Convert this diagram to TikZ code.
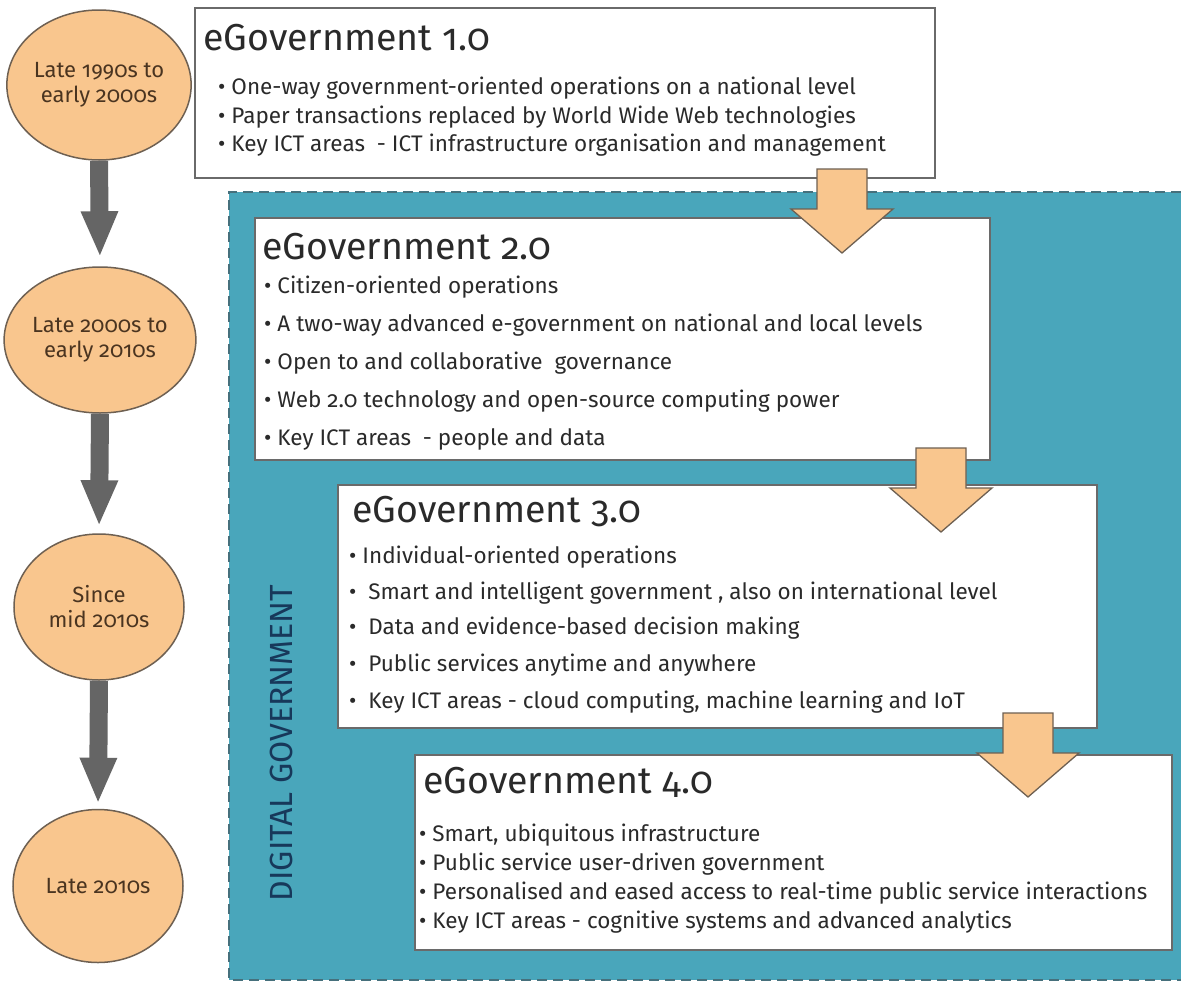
\documentclass[tikz,border=0pt]{standalone}
\usepackage{fontspec}
\setmainfont{Fira Sans}[Numbers=OldStyle]
\usetikzlibrary{shapes.geometric,arrows.meta}
\definecolor{peach}{HTML}{F9C68E}
\definecolor{peachline}{HTML}{6E6052}
\definecolor{tealbg}{HTML}{49A6BB}
\definecolor{tealdash}{HTML}{46707C}
\definecolor{boxline}{HTML}{6A6A6A}
\definecolor{garrow}{HTML}{656565}
\definecolor{navy}{HTML}{17385A}
\definecolor{txt}{HTML}{2A2A2A}
\definecolor{ctxt}{HTML}{4A3420}
\tikzset{
  period/.style={ellipse, draw=peachline, line width=1.5pt, fill=peach, align=center,
    text=ctxt, font=\fontsize{22}{25}\selectfont, inner sep=0pt},
  ebox/.style={draw=boxline, line width=2pt, fill=white, inner sep=0pt},
  etitle/.style={anchor=west, inner sep=0pt, text=txt, font=\fontsize{37.5}{40}\selectfont},
  eitem/.style={anchor=west, inner sep=0pt, text=txt, font=\fontsize{22.5}{26}\selectfont},
  timearrow/.style={draw=garrow, line width=18pt, -{Triangle[width=34pt,length=46pt]}},
  pics/blockarrow/.style={code={
    \draw[fill=peach, draw=peachline, line width=1.3pt, line join=miter]
      (-25,0) -- (25,0) -- (25,40) -- (51,40) -- (0,84) -- (-51,40) -- (-25,40) -- cycle;}}
}
\begin{document}
\begin{tikzpicture}[x=1pt,y=-1pt]
\useasboundingbox (0,0) rectangle (1181,983);
\fill[white] (0,0) rectangle (1181,983);
% teal region
\fill[tealbg] (229,192) rectangle (1181,980);
\draw[tealdash, line width=2.5pt, dash pattern=on 10pt off 6pt] (1181,192) -- (229,192) -- (229,980) -- (1181,980);
\node[text=navy, rotate=90, font=\fontsize{32}{34}\selectfont, inner sep=0pt] (dg) at (281,743) {DIGITAL GOVERNMENT};

% circles
\node[period, minimum width=168pt, minimum height=150pt] (c1) at (99,85) {Late 1990s to\\early 2000s};
\node[period, minimum width=170pt, minimum height=146pt] (c2) at (100,340) {Late 2000s to\\early 2010s};
\node[period, minimum width=170pt, minimum height=146pt] (c3) at (99,607) {Since\\mid 2010s};
\node[period, minimum width=170pt, minimum height=153pt] (c4) at (98,886) {Late 2010s};
\draw[timearrow, shorten >=9pt] (c1.south) -- (c2.north);
\draw[timearrow, shorten >=7pt] (c2.south) -- (c3.north);
\draw[timearrow, shorten >=5pt] (c3.south) -- (c4.north);

% boxes
\node[ebox, minimum width=740pt, minimum height=170pt] (b1) at (565,93) {};
\node[ebox, minimum width=735pt, minimum height=242pt] (b2) at (622.5,339) {};
\node[ebox, minimum width=759pt, minimum height=243pt] (b3) at (717.5,606.5) {};
\node[ebox, minimum width=757pt, minimum height=195pt] (b4) at (793.5,852.5) {};

% box 1 text
\node[etitle] (t1) at (203,38) {eGovernment 1.0};
\node[eitem] (b1i1) at (218,88) {• One-way government-oriented operations on a national level};
\node[eitem] (b1i2) at (218,117) {• Paper transactions replaced by World Wide Web technologies};
\node[eitem] (b1i3) at (218,145) {• Key ICT areas \ - ICT infrastructure organisation and management};

% box 2 text
\node[etitle] (t2) at (262,247) {eGovernment 2.0};
\node[eitem] (b2i1) at (264,287) {• Citizen-oriented operations};
\node[eitem] (b2i2) at (264,325) {• A two-way advanced e-government on national and local levels};
\node[eitem] (b2i3) at (264,363) {• Open to and collaborative \ governance};
\node[eitem] (b2i4) at (264,401) {• Web 2.0 technology and open-source computing power};
\node[eitem] (b2i5) at (264,439) {• Key ICT areas \ - people and data};

% box 3 text
\node[etitle] (t3) at (352,512) {eGovernment 3.0};
\node[eitem] (b3i1) at (349,557) {• Individual-oriented operations};
\node[eitem] (b3i2) at (349,593) {• \ Smart and intelligent government , also on international level};
\node[eitem] (b3i3) at (349,628) {• \ Data and evidence-based decision making};
\node[eitem] (b3i4) at (349,665) {• \ Public services anytime and anywhere};
\node[eitem] (b3i5) at (349,702) {• \ Key ICT areas - cloud computing, machine learning and IoT};

% box 4 text
\node[etitle] (t4) at (423,782) {eGovernment 4.0};
\node[eitem] (b4i1) at (419,835) {• Smart, ubiquitous infrastructure};
\node[eitem] (b4i2) at (419,864) {• Public service user-driven government};
\node[eitem] (b4i3) at (419,893) {• Personalised and eased access to real-time public service interactions};
\node[eitem] (b4i4) at (419,922) {• Key ICT areas - cognitive systems and advanced analytics};

% block arrows between boxes
\coordinate (a1) at (842,169);
\coordinate (a2) at (941,448);
\coordinate (a3) at (1028,713);
\pic at (a1) {blockarrow};
\pic at (a2) {blockarrow};
\pic at (a3) {blockarrow};
\end{tikzpicture}
\end{document}
